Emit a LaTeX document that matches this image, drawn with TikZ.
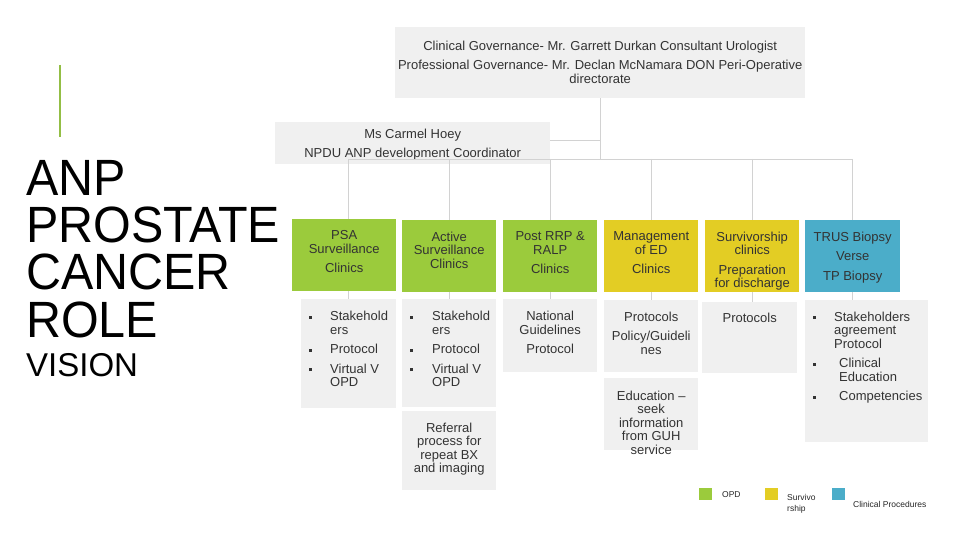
\documentclass[tikz,border=0pt]{standalone}
\usepackage{fontspec}
\setmainfont{Liberation Sans}
\newfontfamily\titlefont[FakeStretch=0.95]{Liberation Sans}

\definecolor{opdGreen}{HTML}{9BCB3C}
\definecolor{survYellow}{HTML}{E3CD24}
\definecolor{procBlue}{HTML}{4BADC9}
\definecolor{cellGray}{HTML}{F0F0F0}
\definecolor{linkGray}{HTML}{D2D2D2}
\definecolor{accentGreen}{HTML}{93BE45}

\newcommand{\boxfont}{\fontsize{13}{13.5}\selectfont}
\newcommand{\sqb}{\rule[2pt]{3pt}{3pt}}
\newcommand{\bitem}[2][29pt]{\par\noindent\hangindent=#1\hangafter=1\relax\makebox[#1][l]{\hspace{8pt}\sqb}#2}

\begin{document}
\begin{tikzpicture}[x=1pt, y=-1pt,
    cell/.style n args={3}{
        anchor=north west, inner sep=0pt, fill=cellGray, text=black!80,
        execute at begin node={\begin{minipage}[t][#2][t]{#1}\boxfont\setlength{\parskip}{6pt}\centering\vspace*{#3}},
        execute at end node={\end{minipage}}
    },
    opdCell/.style n args={3}{cell={#1}{#2}{#3}, fill=opdGreen},
    survCell/.style n args={3}{cell={#1}{#2}{#3}, fill=survYellow},
    procCell/.style n args={3}{cell={#1}{#2}{#3}, fill=procBlue},
    link/.style={draw=linkGray, line width=0.8pt},
    key/.style={anchor=north west, inner sep=0pt, minimum width=13pt, minimum height=12pt},
    keyText/.style={inner sep=0pt, font=\fontsize{8.5}{11}\selectfont, text=black!85}
]
    \useasboundingbox (0,0) rectangle (960,540);

    % --- title ---
    \draw[accentGreen, line width=1.6pt] (60,65) -- (60,137);
    \node[anchor=north west, inner sep=0pt, align=left,
          font=\titlefont\fontsize{51}{47.3}\selectfont] (title) at (26,160)
        {ANP\\PROSTATE\\CANCER\\ROLE};
    \node[anchor=base west, inner sep=0pt, font=\fontsize{33}{36}\selectfont] (vision) at (26,376) {VISION};

    % --- governance ---
    \node[cell={410pt}{71pt}{13.5pt}] (gov) at (395,27)
        {Clinical Governance- Mr. Garrett Durkan Consultant Urologist\par
         Professional Governance- Mr. Declan McNamara DON Peri-Operative\\directorate};
    \node[cell={275pt}{42pt}{6.5pt}] (carmel) at (275,122)
        {Ms Carmel Hoey\par NPDU ANP development Coordinator};

    % --- services ---
    \node[opdCell={104pt}{72pt}{11.5pt}] (psa) at (292,219) {PSA\\Surveillance\par Clinics};
    \node[opdCell={94pt}{72pt}{11.5pt}] (active) at (402,220) {Active\\Surveillance\\Clinics};
    \node[opdCell={94pt}{72pt}{11.5pt}] (post) at (503,220) {Post RRP \&\\RALP\par Clinics};
    \node[survCell={94pt}{72pt}{11.5pt}] (mgmt) at (604,220) {Management\\of ED\par Clinics};
    \node[survCell={94pt}{72pt}{11.5pt}] (surv) at (705,220) {Survivorship\\clinics\par Preparation\\for discharge};
    \node[procCell={95pt}{72pt}{11.5pt}] (trus) at (805,220) {TRUS Biopsy\par Verse\par TP Biopsy};

    % --- details ---
    \node[cell={95pt}{109pt}{12pt}] (psaD) at (301,299)
        {\raggedright\bitem{Stakehold\newline ers}\bitem{Protocol}\bitem{Virtual V\newline OPD}\par};
    \node[cell={94pt}{108pt}{12pt}] (activeD) at (402,299)
        {\raggedright\bitem[30pt]{Stakehold\newline ers}\bitem[30pt]{Protocol}\bitem[30pt]{Virtual V\newline OPD}\par};
    \node[cell={94pt}{79pt}{11.5pt}] (referral) at (402,411) {Referral\\process for\\repeat BX\\and imaging};
    \node[cell={94pt}{73pt}{12pt}] (postD) at (503,299) {National\\Guidelines\par Protocol};
    \node[cell={94pt}{72pt}{11.5pt}] (mgmtD) at (604,300) {Protocols\par Policy/Guideli\\nes};
    \node[cell={94pt}{72pt}{12.5pt}] (education) at (604,378) {Education –\\seek\\information\\from GUH\\service};
    \node[cell={95pt}{71pt}{10.5pt}] (survD) at (702,302) {Protocols};
    \node[cell={123pt}{142pt}{11.5pt}] (trusD) at (805,300)
        {\raggedright\bitem{Stakeholders\newline agreement\newline Protocol}\bitem[34pt]{Clinical\newline Education}\bitem[34pt]{Competencies}\par};

    % --- connectors ---
    \coordinate (bus) at (600,159);
    \draw[link] (gov.south) -- (gov.south |- bus);
    \draw[link] ([yshift=3pt]carmel.east) -- ([yshift=3pt]carmel.east -| gov.south);
    \draw[link] (psaD.north |- bus) -- (trus.north |- bus);
    \foreach \x/\col/\detail in {psaD/psa/psaD, active/active/activeD, post/post/postD,
                                  mgmt/mgmt/mgmtD, surv/surv/survD, trus/trus/trusD} {
        \draw[link] (\x.north |- bus) -- (\x.north |- \col.north);
        \draw[link] (\x.north |- \col.south) -- (\x.north |- \detail.north);
    }

    % --- key ---
    \node[key, fill=opdGreen] (keyOpd) at (699,488) {};
    \node[keyText, anchor=base west] (keyOpdText) at (722,497) {OPD};
    \node[key, fill=survYellow] (keySurv) at (765,488) {};
    \node[keyText, anchor=north west, align=left] (keySurvText) at (787,494) {Survivo\\rship};
    \node[key, fill=procBlue] (keyProc) at (832,488) {};
    \node[keyText, anchor=base west] (keyProcText) at (853,507) {Clinical Procedures};
\end{tikzpicture}
\end{document}
